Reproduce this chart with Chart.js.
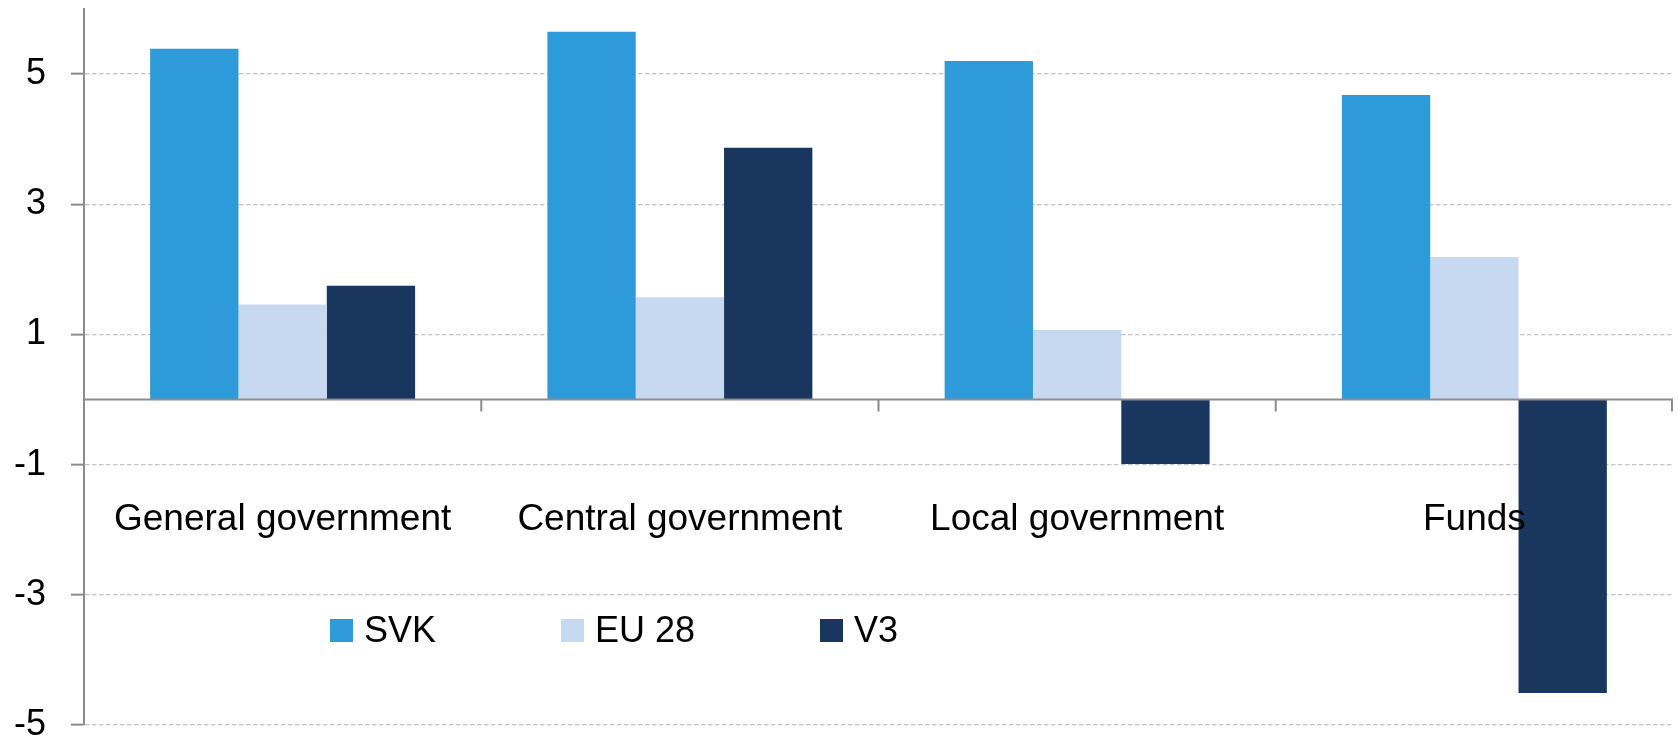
<!DOCTYPE html>
<html>
<head>
<meta charset="utf-8">
<script src="https://cdn.jsdelivr.net/npm/chart.js@4.4.1/dist/chart.umd.min.js"></script>
<style>
  body { margin: 0; background: #fff; }
  #wrap { position: relative; width: 1678px; height: 740px; }
  #myChart { display: block; }
  #legend { position: absolute; left: 330px; top: 612px; font-family: "Liberation Sans", Arial, sans-serif; font-size: 36px; line-height: 36px; white-space: nowrap; color: #000; }
  .item { display: inline-block; margin-right: 125px; }
  .swatch { display: inline-block; width: 23px; height: 23px; margin-right: 11px; vertical-align: baseline; }
</style>
</head>
<body>
<div id="wrap">
  <canvas id="myChart" width="1678" height="740"></canvas>
  <div id="legend"></div>
</div>
<script>
// sectors along the x axis
var categories = ['General government', 'Central government', 'Local government', 'Funds']
// one list per series, same order as categories
var series_names = ['SVK', 'EU 28', 'V3']
var svk_values = [5.39, 5.65, 5.20, 4.68]
var eu28_values = [1.46, 1.57, 1.07, 2.19]
var v3_values = [1.75, 3.87, -0.99, -4.51]
// labelled values on the y axis
var y_ticks = [-5, -3, -1, 1, 3, 5]
var bar_colors = ['#2d9ad9', '#c7d9f0', '#19375e']

const font_family = '"Liberation Sans", Arial, sans-serif'
const axis_color = '#8c8c8c'

// zero line, small ticks between sectors and the sector names (drawn over the bars)
const sector_axis = {
  id: 'sector_axis',
  afterDatasetsDraw(chart) {
    const ctx = chart.ctx
    const x = chart.scales.x
    const y = chart.scales.y
    const area = chart.chartArea
    const zero = y.getPixelForValue(0)
    const step = (area.right - area.left) / categories.length
    ctx.save()
    ctx.strokeStyle = axis_color
    ctx.lineWidth = 2
    ctx.beginPath()
    ctx.moveTo(area.left, zero)
    ctx.lineTo(area.right, zero)
    for (let i = 1; i <= categories.length; i++) {
      const bx = Math.min(area.left + i * step, area.right - 1)
      ctx.moveTo(bx, zero)
      ctx.lineTo(bx, zero + 12)
    }
    ctx.stroke()

    ctx.fillStyle = '#000'
    ctx.font = '37px ' + font_family
    ctx.textAlign = 'center'
    ctx.textBaseline = 'alphabetic'
    const label_y = y.getPixelForValue(-2)
    for (let i = 0; i < categories.length; i++) {
      ctx.fillText(categories[i], x.getPixelForValue(i), label_y)
    }
    ctx.restore()
  }
}

const all_values = [svk_values, eu28_values, v3_values]
var datasets = []
for (let s = 0; s < series_names.length; s++) {
  datasets.push({
    label: series_names[s],
    data: all_values[s],
    backgroundColor: bar_colors[s],
    borderWidth: 0
  })
}

const ctx = document.getElementById('myChart')
new Chart(ctx, {
  type: 'bar',
  data: {
    labels: categories,
    datasets: datasets
  },
  options: {
    responsive: false,
    animation: false,
    layout: { padding: { top: 9, right: 5, bottom: 15, left: 0 } },
    datasets: {
      bar: { categoryPercentage: 0.667, barPercentage: 1.0 }
    },
    plugins: {
      legend: { display: false },
      tooltip: { enabled: false }
    },
    scales: {
      x: {
        display: false
      },
      y: {
        min: -5,
        max: 6,
        afterBuildTicks: function(scale) {
          scale.ticks = y_ticks.map(v => ({ value: v }))
        },
        afterFit: function(scale) {
          scale.width = 84
          scale.paddingTop = 0
          scale.paddingBottom = 0
        },
        border: { color: axis_color, width: 2, dash: [4.5, 2.5] },
        grid: {
          color: '#c4c4c4',
          lineWidth: 1.3,
          tickLength: 13,
          tickColor: axis_color,
          tickWidth: 2,
          tickBorderDash: []
        },
        ticks: {
          color: '#000',
          padding: 25,
          font: { size: 36, family: font_family }
        }
      }
    }
  },
  plugins: [sector_axis]
})

// legend row built from the series names and colours
const legend = document.getElementById('legend')
for (let s = 0; s < series_names.length; s++) {
  const item = document.createElement('span')
  item.className = 'item'
  const swatch = document.createElement('span')
  swatch.className = 'swatch'
  swatch.style.background = bar_colors[s]
  item.appendChild(swatch)
  item.appendChild(document.createTextNode(series_names[s]))
  legend.appendChild(item)
}
</script>
</body>
</html>
